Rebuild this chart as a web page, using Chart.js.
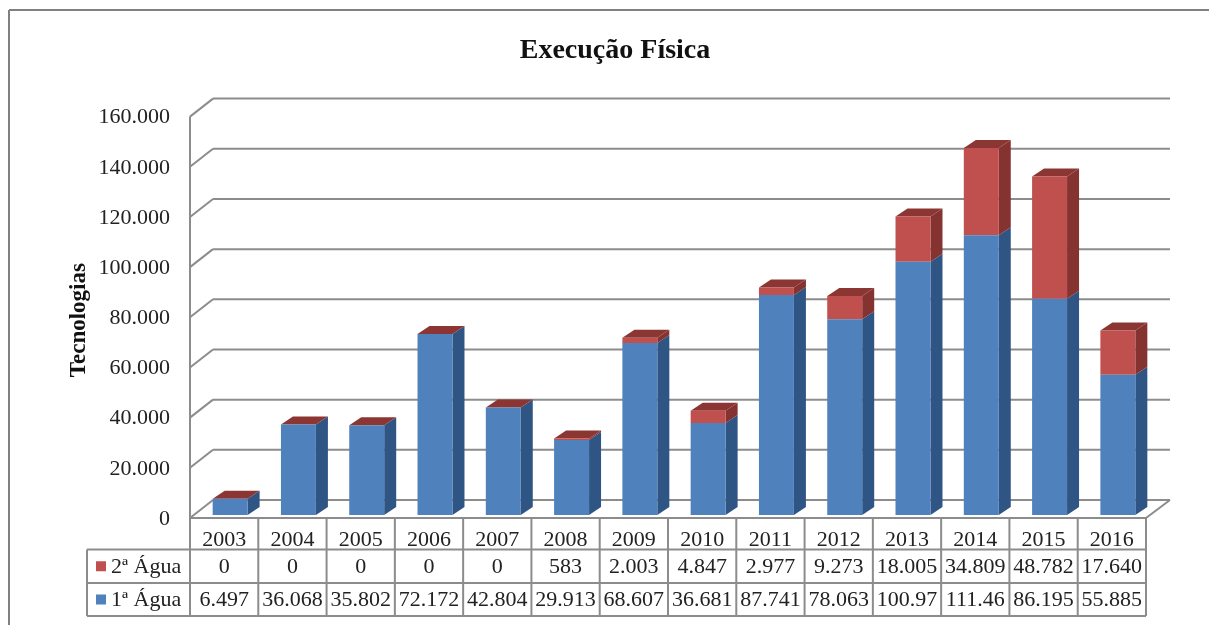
<!DOCTYPE html>
<html lang="pt">
<head>
    <meta charset="UTF-8">
    <title>Execução Física</title>
    <script src="https://cdn.jsdelivr.net/npm/chart.js"></script>
    <style>
        html, body { margin: 0; padding: 0; background: #fff; }
        canvas { display: block; }
    </style>
</head>
<body>
    <canvas id="myChart" width="1209" height="625"></canvas>

    <script>
        var years = ['2003', '2004', '2005', '2006', '2007', '2008', '2009', '2010', '2011', '2012', '2013', '2014', '2015', '2016'];
        var primeiraAgua = [6497, 36068, 35802, 72172, 42804, 29913, 68607, 36681, 87741, 78063, 100970, 111460, 86195, 55885];
        var segundaAgua = [0, 0, 0, 0, 0, 583, 2003, 4847, 2977, 9273, 18005, 34809, 48782, 17640];
        var yTicks = [0, 20000, 40000, 60000, 80000, 100000, 120000, 140000, 160000];

        var serif = '"Liberation Serif", "Times New Roman", serif';
        var gridColor = '#8c8c8c';
        var textColor = '#222';

        // profundidade da parede do fundo e das barras
        var wallDx = 23, wallDy = -18;
        var barDx = 12, barDy = -8;
        // as barras ficam no meio do chão, um pouco atrás do plano da frente
        var barShiftX = 6, barShiftY = -3;

        var blue = '#4f81bd', blueSide = '#2f5585';
        var red = '#c0504d', redSide = '#843331', redTop = '#8c3634';

        // 6.497, 36.068 ... a célula corta depois de 6 caracteres
        function formatNum(v) {
            return String(v).replace(/\B(?=(\d{3})+$)/g, '.');
        }

        function line(ctx, x1, y1, x2, y2) {
            ctx.beginPath();
            ctx.moveTo(x1, y1);
            ctx.lineTo(x2, y2);
            ctx.stroke();
        }

        function face(ctx, color, pts) {
            ctx.fillStyle = color;
            ctx.beginPath();
            ctx.moveTo(pts[0], pts[1]);
            for (var i = 2; i < pts.length; i += 2) ctx.lineTo(pts[i], pts[i + 1]);
            ctx.closePath();
            ctx.fill();
        }

        // moldura, paredes do gráfico e linhas de grade
        function drawWalls(chart) {
            var ctx = chart.ctx;
            var area = chart.chartArea;
            var yScale = chart.scales.y;

            ctx.save();
            ctx.strokeStyle = '#808080';
            ctx.lineWidth = 2;
            line(ctx, 9, 10, 1209, 10);
            line(ctx, 9, 10, 9, 625);

            ctx.strokeStyle = gridColor;
            yTicks.forEach(function (v) {
                var y = yScale.getPixelForValue(v);
                line(ctx, area.left, y, area.left + wallDx, y + wallDy);
                line(ctx, area.left + wallDx, y + wallDy, area.right + wallDx + 1, y + wallDy);
            });
            line(ctx, area.left, yScale.getPixelForValue(160000), area.left, area.bottom);
            line(ctx, area.left, area.bottom, area.right, area.bottom);
            line(ctx, area.right, area.bottom, area.right + wallDx + 1, area.bottom + wallDy);
            ctx.restore();
        }

        // lados e tampo de cada barra
        function drawBarFaces(chart) {
            var ctx = chart.ctx;
            var metaA = chart.getDatasetMeta(0);
            var metaB = chart.getDatasetMeta(1);

            years.forEach(function (year, i) {
                var a = metaA.data[i], b = metaB.data[i];
                var right = a.x + a.width / 2;
                var left = a.x - a.width / 2;
                face(ctx, blueSide, [right, a.base, right + barDx, a.base + barDy, right + barDx, a.y + barDy, right, a.y]);
                face(ctx, redSide, [right, b.base, right + barDx, b.base + barDy, right + barDx, b.y + barDy, right, b.y]);
                face(ctx, redTop, [left, b.y, left + barDx, b.y + barDy, right + barDx, b.y + barDy, right, b.y]);
            });
        }

        // tabela de dados embaixo do eixo, com a legenda nas duas linhas
        function drawTable(chart) {
            var ctx = chart.ctx;
            var area = chart.chartArea;
            var xScale = chart.scales.x;
            var step = xScale.getPixelForValue(1) - xScale.getPixelForValue(0);
            var rowY = [area.bottom, 549.5, 583, 616];
            var tableLeft = 87;

            ctx.save();
            ctx.strokeStyle = gridColor;
            ctx.lineWidth = 2;

            for (var c = 0; c <= years.length; c++) {
                var x = area.left + c * step;
                line(ctx, x, rowY[0], x, rowY[3]);
            }
            line(ctx, tableLeft, rowY[1], area.right, rowY[1]);
            line(ctx, tableLeft, rowY[2], area.right, rowY[2]);
            line(ctx, tableLeft, rowY[3], area.right, rowY[3]);
            line(ctx, tableLeft, rowY[1], tableLeft, rowY[3]);

            ctx.font = '22px ' + serif;
            ctx.fillStyle = textColor;
            ctx.textAlign = 'center';
            ctx.textBaseline = 'middle';
            var rows = [segundaAgua, primeiraAgua];
            rows.forEach(function (values, r) {
                var y = (rowY[r + 1] + rowY[r + 2]) / 2 + 1;
                values.forEach(function (v, i) {
                    ctx.fillText(formatNum(v).slice(0, 6), xScale.getPixelForValue(i), y);
                });
            });

            var names = ['2ª Água', '1ª Água'];
            var keys = [red, blue];
            names.forEach(function (name, r) {
                var y = (rowY[r + 1] + rowY[r + 2]) / 2 + 1;
                ctx.fillStyle = keys[r];
                ctx.fillRect(96, y - 6, 10, 10);
                ctx.fillStyle = textColor;
                ctx.textAlign = 'left';
                ctx.fillText(name, 111, y);
            });
            ctx.restore();
        }

        var depthPlugin = {
            id: 'depth',
            beforeDatasetsDraw: function (chart) {
                drawWalls(chart);
                drawTable(chart);
                chart.ctx.save();
                chart.ctx.translate(barShiftX, barShiftY);
                drawBarFaces(chart);
            },
            afterDatasetsDraw: function (chart) {
                chart.ctx.restore();
            }
        };

        var ctx = document.getElementById('myChart').getContext('2d');
        var myChart = new Chart(ctx, {
            type: 'bar',
            data: {
                labels: years,
                datasets: [
                    { label: '1ª Água', data: primeiraAgua, backgroundColor: blue, borderWidth: 0, clip: false },
                    { label: '2ª Água', data: segundaAgua, backgroundColor: red, borderWidth: 0, clip: false }
                ]
            },
            options: {
                responsive: false,
                animation: false,
                // padding esquerdo centraliza o título em x = 615
                layout: { padding: { left: 84, right: 63, top: 0, bottom: 0 } },
                datasets: { bar: { categoryPercentage: 1, barPercentage: 0.512 } },
                plugins: {
                    legend: { display: false },
                    tooltip: { enabled: false },
                    title: {
                        display: true,
                        text: 'Execução Física',
                        color: '#111',
                        font: { family: serif, size: 28, weight: 'bold' },
                        padding: { top: 34, bottom: 49 }
                    }
                },
                scales: {
                    x: {
                        stacked: true,
                        grid: { display: false, drawTicks: false },
                        border: { display: false },
                        ticks: {
                            color: textColor,
                            font: { family: serif, size: 22 },
                            padding: 9,
                            maxRotation: 0,
                            autoSkip: false
                        },
                        afterFit: function (scale) { scale.height = 107; }
                    },
                    y: {
                        stacked: true,
                        min: 0,
                        max: 160000,
                        grid: { display: false, drawTicks: false },
                        border: { display: false },
                        title: {
                            display: true,
                            text: 'Tecnologias ',
                            color: '#111',
                            font: { family: serif, size: 23, weight: 'bold' },
                            padding: { top: -19, bottom: 0 }
                        },
                        ticks: {
                            color: textColor,
                            font: { family: serif, size: 22 },
                            padding: 20,
                            labelOffset: 1,
                            stepSize: 20000,
                            callback: function (value) { return formatNum(value); }
                        },
                        afterFit: function (scale) { scale.width = 106; }
                    }
                }
            },
            plugins: [depthPlugin]
        });
    </script>
</body>
</html>
